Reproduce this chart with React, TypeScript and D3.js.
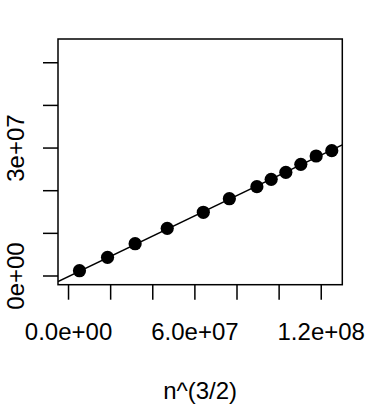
import React from "react";
import * as d3 from "d3";

const xValues = [5.196e6, 1.852e7, 3.162e7, 4.687e7, 6.4e7, 7.637e7, 8.944e7, 9.623e7, 1.0319e8, 1.103e8, 1.1758e8, 1.25e8];
const yValues = [1.24e6, 4.38e6, 7.57e6, 1.118e7, 1.494e7, 1.812e7, 2.094e7, 2.267e7, 2.431e7, 2.619e7, 2.814e7, 2.938e7];
const xTicks = [0, 2e7, 4e7, 6e7, 8e7, 1e8, 1.2e8];
const xTickLabels = ["0.0e+00", "", "", "6.0e+07", "", "", "1.2e+08"];
const yTicks = [0, 1e7, 2e7, 3e7, 4e7, 5e7];
const yTickLabels = ["0e+00", "", "", "3e+07", "", ""];
const fitIntercept = -1.0e5;
const fitSlope = 0.2373;
const xLabel = "n^(3/2)";

const W = 369, H = 409;
const left = 58, right = 342.3, top = 39, bottom = 284.7;
const font = "'Liberation Sans', Arial, Helvetica, sans-serif";

export default function App() {
  const x = d3.scaleLinear().domain([-5.0e6, 1.3e8]).range([left, right]);
  const y = d3.scaleLinear().domain([-2.04e6, 5.557e7]).range([bottom, top]);
  const [x0, x1] = x.domain();
  const fitLine = d3.line<number>().x((d) => x(d)).y((d) => y(fitIntercept + fitSlope * d));
  const tickLen = 15;
  return (
    <svg width={W} height={H} style={{ position: "fixed", left: 0, top: 0, background: "#fff" }}>
      <defs>
        <clipPath id="plotclip">
          <rect x={left} y={top} width={right - left} height={bottom - top} />
        </clipPath>
      </defs>
      <path d={fitLine([x0, x1]) || ""} stroke="#000" strokeWidth={1.5} fill="none" clipPath="url(#plotclip)" />
      {xValues.map((xv, i) => (
        <circle key={i} cx={x(xv)} cy={y(yValues[i])} r={6.6} fill="#000" />
      ))}
      <rect x={left} y={top} width={right - left} height={bottom - top} fill="none" stroke="#000" strokeWidth={1.5} />
      {xTicks.map((t, i) => (
        <g key={"xt" + i}>
          <line x1={x(t)} x2={x(t)} y1={bottom} y2={bottom + tickLen} stroke="#000" strokeWidth={1.5} />
          {xTickLabels[i] && (
            <text x={x(t)} y={340} textAnchor="middle" fontSize={24} fontFamily={font} fill="#000">
              {xTickLabels[i]}
            </text>
          )}
        </g>
      ))}
      {yTicks.map((t, i) => (
        <g key={"yt" + i}>
          <line x1={left - tickLen} x2={left} y1={y(t)} y2={y(t)} stroke="#000" strokeWidth={1.5} />
          {yTickLabels[i] && (
            <text
              transform={`translate(23.5,${y(t)}) rotate(-90)`}
              textAnchor="middle"
              fontSize={24}
              fontFamily={font}
              fill="#000"
            >
              {yTickLabels[i]}
            </text>
          )}
        </g>
      ))}
      <text x={(left + right) / 2} y={399} textAnchor="middle" fontSize={24} fontFamily={font} fill="#000">
        {xLabel}
      </text>
    </svg>
  );
}
